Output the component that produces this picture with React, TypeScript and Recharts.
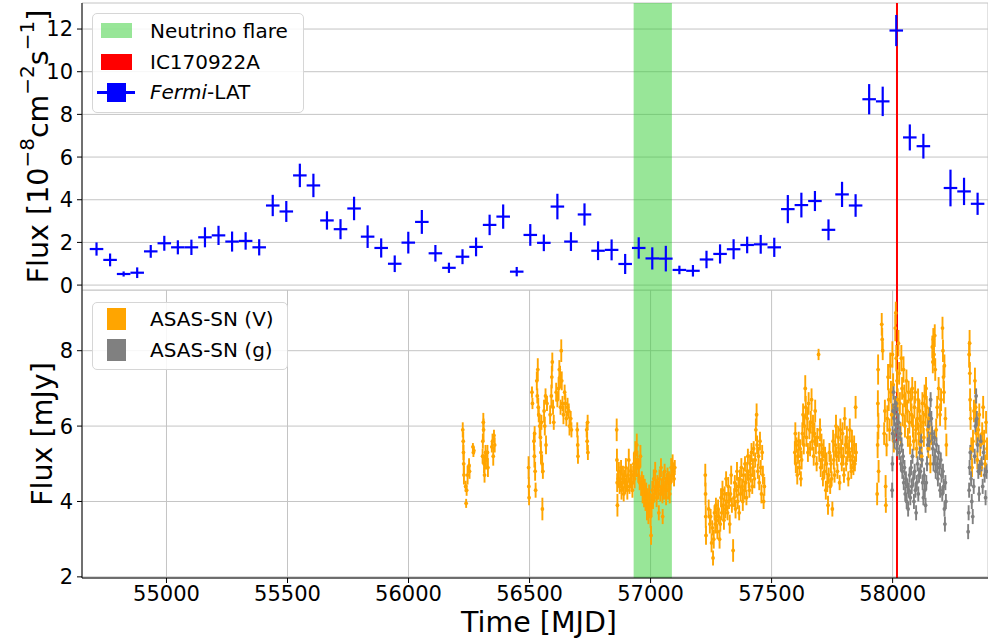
import React from 'react';
import {
  ComposedChart, Scatter, XAxis, YAxis, CartesianGrid, ErrorBar,
  ReferenceArea, ReferenceLine, Legend, Label,
} from 'recharts';

const FONT = '"DejaVu Sans", "Noto Sans", sans-serif';

// ---- axes / annotations ----
const xTicks = [55000, 55500, 56000, 56500, 57000, 57500, 58000];
const xDomain: [number, number] = [54651, 58394];
const fermiTicks = [0, 2, 4, 6, 8, 10, 12];
const fermiDomain: [number, number] = [-0.23, 13.22];
const asasTicks = [2, 4, 6, 8];
const asasDomain: [number, number] = [1.97, 9.61];
const neutrinoFlare: [number, number] = [56930, 57088];
const ic170922aTime = 58018;

// ---- Fermi-LAT (56-day bins) ----
const fermiTime = [54711, 54767, 54823, 54879, 54935, 54991, 55047, 55103, 55159, 55215, 55271, 55327, 55383, 55439, 55495, 55551, 55607, 55663, 55719, 55775, 55831, 55887, 55943, 55999, 56055, 56111, 56167, 56223, 56279, 56335, 56391, 56447, 56503, 56559, 56615, 56671, 56727, 56783, 56839, 56895, 56951, 57007, 57063, 57119, 57175, 57231, 57287, 57343, 57399, 57455, 57511, 57567, 57623, 57679, 57735, 57791, 57847, 57903, 57959, 58015, 58071, 58127, 58239, 58295, 58351];
const fermiFlux = [1.69, 1.18, 0.52, 0.58, 1.58, 1.96, 1.77, 1.77, 2.24, 2.33, 2.04, 2.07, 1.77, 3.73, 3.45, 5.14, 4.67, 3.03, 2.62, 3.59, 2.27, 1.74, 1.0, 1.99, 2.96, 1.49, 0.81, 1.33, 1.79, 2.82, 3.21, 0.63, 2.35, 1.98, 3.68, 2.04, 3.31, 1.61, 1.65, 0.99, 1.74, 1.25, 1.24, 0.71, 0.67, 1.2, 1.46, 1.68, 1.88, 1.91, 1.77, 3.56, 3.75, 3.94, 2.59, 4.25, 3.73, 8.71, 8.61, 11.93, 6.92, 6.51, 4.55, 4.39, 3.81];
const fermiFluxErr = [0.31, 0.30, 0.12, 0.25, 0.30, 0.35, 0.33, 0.36, 0.47, 0.45, 0.47, 0.41, 0.38, 0.50, 0.49, 0.55, 0.55, 0.43, 0.47, 0.55, 0.53, 0.45, 0.39, 0.51, 0.56, 0.39, 0.24, 0.35, 0.44, 0.48, 0.57, 0.22, 0.51, 0.39, 0.60, 0.44, 0.52, 0.44, 0.49, 0.47, 0.50, 0.52, 0.60, 0.20, 0.27, 0.41, 0.45, 0.47, 0.39, 0.44, 0.45, 0.66, 0.58, 0.47, 0.49, 0.59, 0.53, 0.71, 0.69, 0.73, 0.61, 0.58, 0.86, 0.64, 0.52];
const fermiBinHalfWidth = 28;

// ---- ASAS-SN V band: [MJD, flux mJy, err] ----
const asasV: number[][] = [
  [56224,5.9,0.2],[56226,5.6,0.25],[56227,5.3,0.2],[56228,5.0,0.3],[56229,4.7,0.25],[56236,4.4,0.15],[56238,3.95,0.12],[56240,4.3,0.15],[56244,4.7,0.25],[56250,4.95,0.2],[56252,4.8,0.2],[56266,5.45,0.1],[56268,5.3,0.12],[56270,5.35,0.1],[56306,5.2,0.2],[56307,5.6,0.2],[56309,6.1,0.25],[56310,5.9,0.3],[56312,5.0,0.25],[56314,4.7,0.2],[56318,5.3,0.2],[56320,5.1,0.25],[56326,5.3,0.2],[56328,4.9,0.25],[56344,5.45,0.15],[56347,5.6,0.2],[56350,5.2,0.25],[56353,5.75,0.15],[56356,5.5,0.2],
  [56496,4.9,0.3],[56497,4.4,0.25],[56498,4.1,0.2],[56510,6.9,0.15],[56512,6.6,0.15],[56518,5.6,0.25],[56520,5.2,0.3],[56521,5.8,0.2],[56523,4.8,0.25],[56525,4.3,0.2],[56530,7.2,0.25],[56532,6.8,0.2],[56534,7.5,0.3],[56536,6.5,0.25],[56538,6.3,0.2],[56542,6.0,0.3],[56545,5.7,0.25],[56547,5.3,0.3],[56549,6.1,0.2],[56552,5.0,0.25],[56553,3.8,0.3],[56555,4.8,0.2],[56560,6.4,0.3],[56563,6.0,0.25],[56566,6.8,0.2],[56568,5.5,0.25],[56572,6.6,0.2],[56585,6.3,0.25],[56590,6.8,0.3],[56592,7.3,0.3],[56594,7.7,0.25],[56597,6.5,0.2],[56600,6.1,0.2],[56610,6.9,0.25],[56615,6.7,0.2],[56620,7.0,0.3],[56623,7.5,0.25],[56626,7.3,0.3],[56628,6.5,0.2],[56631,8.0,0.3],[56633,7.2,0.25],[56636,6.6,0.2],[56640,6.3,0.25],[56645,6.9,0.2],[56648,6.6,0.25],[56652,6.2,0.2],[56657,6.5,0.25],[56662,6.4,0.2],[56665,6.0,0.25],[56670,6.2,0.2],[56673,5.9,0.2],[56697,5.9,0.2],[56699,5.5,0.25],[56700,5.2,0.2],[56736,5.9,0.2],[56738,5.6,0.25],[56740,6.1,0.2],[56741,5.3,0.2],
  [56860,5.9,0.3],[56861,5.1,0.3],[56862,4.5,0.25],[56863,3.9,0.3],[56866,4.6,0.2],[56869,4.8,0.25],[56872,4.4,0.2],[56875,4.6,0.25],[56878,4.9,0.2],[56880,4.3,0.25],[56883,4.5,0.2],[56886,4.7,0.25],[56889,4.2,0.2],[56892,4.6,0.25],[56895,4.4,0.2],[56898,4.9,0.25],[56901,4.5,0.2],[56904,4.3,0.25],[56907,4.7,0.2],[56910,5.1,0.3],[56913,4.4,0.2],[56916,4.6,0.25],[56919,4.8,0.2],[56922,4.5,0.25],[56925,4.3,0.2],[56928,4.7,0.25],[56931,5.0,0.3],[56934,4.6,0.25],[56937,5.3,0.3],[56940,4.9,0.25],[56943,5.5,0.3],[56946,5.1,0.25],[56949,4.7,0.2],[56952,4.9,0.25],[56955,4.5,0.2],[56958,5.2,0.3],[56961,4.4,0.25],[56964,4.6,0.2],[56967,4.2,0.25],[56970,4.5,0.2],[56973,4.1,0.25],[56976,4.4,0.2],[56979,4.0,0.25],[56982,4.3,0.2],[56985,3.8,0.3],[56988,4.1,0.25],[56991,3.7,0.3],[56994,4.2,0.25],[56997,3.9,0.3],[57000,3.6,0.3],[57002,3.1,0.25],[57004,3.9,0.3],[57007,4.3,0.25],[57010,4.0,0.2],[57013,4.6,0.25],[57016,4.2,0.2],[57019,4.8,0.25],[57022,4.4,0.2],[57025,4.1,0.25],[57028,4.5,0.2],[57031,4.3,0.25],[57034,3.7,0.2],[57037,4.6,0.25],[57040,4.2,0.2],[57043,4.9,0.25],[57046,4.4,0.2],[57049,4.2,0.25],[57050,3.6,0.2],[57052,4.6,0.2],[57055,4.3,0.25],[57058,4.8,0.2],[57061,4.4,0.25],[57064,4.1,0.2],[57067,4.5,0.25],[57070,4.7,0.2],[57073,4.3,0.25],[57076,4.6,0.2],[57079,4.2,0.25],[57082,4.5,0.2],[57085,4.9,0.25],[57088,4.7,0.2],[57091,5.0,0.25],[57094,4.8,0.2],[57097,4.6,0.2],[57100,4.9,0.2],
  [57226,4.7,0.3],[57227,4.2,0.3],[57228,3.6,0.3],[57229,3.1,0.25],[57240,3.8,0.25],[57245,3.4,0.25],[57248,3.6,0.2],[57252,2.9,0.25],[57255,3.3,0.2],[57258,2.5,0.2],[57261,3.0,0.25],[57264,3.7,0.2],[57267,3.4,0.25],[57270,3.9,0.2],[57273,3.5,0.25],[57276,3.2,0.2],[57279,3.8,0.25],[57282,3.6,0.2],[57285,3.0,0.25],[57288,3.4,0.2],[57291,4.1,0.25],[57294,3.7,0.2],[57297,4.3,0.25],[57300,3.9,0.2],[57303,3.5,0.25],[57306,4.2,0.2],[57309,3.8,0.25],[57312,4.6,0.2],[57315,4.0,0.25],[57318,3.7,0.2],[57321,4.4,0.25],[57324,4.0,0.2],[57327,3.4,0.25],[57330,4.2,0.2],[57333,4.7,0.25],[57336,3.9,0.2],[57341,2.7,0.3],[57345,4.1,0.25],[57348,4.5,0.2],[57351,3.8,0.25],[57354,4.3,0.2],[57357,4.8,0.25],[57360,4.0,0.2],[57363,4.4,0.25],[57366,3.7,0.2],[57369,4.6,0.25],[57372,4.2,0.2],[57375,4.9,0.25],[57378,4.4,0.2],[57381,4.0,0.25],[57384,4.7,0.2],[57387,4.3,0.25],[57390,5.0,0.2],[57393,4.5,0.25],[57396,4.1,0.2],[57399,4.8,0.25],[57402,5.2,0.2],[57405,4.6,0.25],[57408,4.3,0.2],[57411,5.0,0.25],[57414,4.7,0.2],[57417,5.3,0.25],[57420,4.4,0.2],[57423,4.9,0.25],[57426,5.4,0.2],[57429,4.6,0.25],[57432,5.1,0.2],[57435,5.9,0.3],[57438,6.3,0.3],[57440,5.5,0.25],[57443,4.8,0.2],[57446,5.2,0.25],[57449,4.5,0.2],[57452,5.6,0.25],[57455,4.9,0.2],[57458,4.2,0.25],[57461,5.3,0.2],[57464,4.7,0.25],[57467,4.0,0.2],[57470,4.4,0.25],
  [57596,5.3,0.3],[57598,5.8,0.3],[57600,5.0,0.25],[57603,5.5,0.2],[57606,4.7,0.25],[57609,5.2,0.2],[57612,5.6,0.25],[57615,4.9,0.2],[57618,5.4,0.25],[57621,4.6,0.2],[57624,5.1,0.25],[57627,5.8,0.3],[57630,6.3,0.3],[57633,5.5,0.25],[57636,6.0,0.3],[57639,7.0,0.35],[57641,6.5,0.3],[57644,5.7,0.25],[57647,6.2,0.3],[57650,5.3,0.25],[57653,6.6,0.3],[57656,5.9,0.25],[57659,5.4,0.2],[57662,6.1,0.3],[57665,6.7,0.3],[57668,5.6,0.25],[57671,6.0,0.3],[57674,5.2,0.25],[57677,5.8,0.3],[57680,6.4,0.3],[57683,5.5,0.25],[57686,5.0,0.2],[57689,5.7,0.25],[57694,7.9,0.15],[57697,5.3,0.25],[57700,5.9,0.3],[57703,4.9,0.25],[57706,5.5,0.3],[57709,5.1,0.25],[57712,4.6,0.2],[57715,5.4,0.25],[57718,4.8,0.2],[57721,5.2,0.25],[57724,4.3,0.25],[57727,5.0,0.3],[57730,4.5,0.25],[57733,3.9,0.25],[57736,4.7,0.2],[57739,5.3,0.25],[57742,4.4,0.2],[57745,5.0,0.25],[57748,4.6,0.2],[57751,3.8,0.2],[57754,5.6,0.3],[57757,5.1,0.25],[57760,4.7,0.2],[57763,5.5,0.3],[57766,6.0,0.3],[57769,5.2,0.25],[57772,4.8,0.2],[57775,5.7,0.3],[57778,5.3,0.25],[57781,4.5,0.2],[57784,5.9,0.3],[57787,5.4,0.25],[57790,5.0,0.2],[57793,5.8,0.3],[57796,5.2,0.25],[57799,4.7,0.2],[57802,6.2,0.3],[57805,5.5,0.25],[57808,5.0,0.2],[57811,5.7,0.3],[57814,5.3,0.25],[57817,4.6,0.2],[57820,5.4,0.25],[57823,5.9,0.3],[57826,5.1,0.25],[57829,4.8,0.2],[57832,5.6,0.3],[57835,5.2,0.25],[57838,4.9,0.2],[57841,5.5,0.25],[57844,5.0,0.2],[57847,6.5,0.3],[57849,5.3,0.25],
  [57936,4.2,0.3],[57938,5.5,0.35],[57939,6.6,0.35],[57940,7.5,0.4],[57941,6.0,0.35],[57942,4.8,0.3],[57955,8.7,0.3],[57957,8.3,0.3],[57959,8.0,0.25],[57965,5.8,0.3],[57968,6.4,0.3],[57971,4.4,0.3],[57972,3.9,0.2],[57975,5.5,0.3],[57978,6.2,0.35],[57981,7.3,0.35],[57984,6.7,0.3],[57987,5.9,0.3],[57990,7.6,0.35],[57993,6.9,0.3],[57996,6.3,0.3],[57999,7.9,0.35],[58002,7.1,0.3],[58005,5.6,0.3],[58008,6.5,0.3],[58011,8.6,0.35],[58013,9.0,0.3],[58015,7.8,0.35],[58018,7.2,0.3],[58021,6.7,0.3],[58024,8.2,0.35],[58027,7.4,0.3],[58030,6.6,0.3],[58033,5.8,0.3],[58036,7.8,0.35],[58039,7.0,0.3],[58042,6.3,0.3],[58045,7.5,0.35],[58048,6.8,0.3],[58051,6.0,0.3],[58054,6.6,0.3],[58057,7.2,0.3],[58060,6.4,0.3],[58063,5.7,0.25],[58066,6.9,0.3],[58069,6.1,0.3],[58072,5.5,0.25],[58075,6.7,0.3],[58078,6.3,0.3],[58081,7.0,0.3],[58084,6.0,0.3],[58087,5.6,0.25],[58090,6.5,0.3],[58093,6.9,0.3],[58096,5.9,0.3],[58099,5.4,0.25],[58102,6.2,0.3],[58105,6.7,0.3],[58108,5.8,0.3],[58111,6.4,0.3],[58114,5.5,0.25],[58117,6.0,0.3],[58120,5.2,0.25],[58123,6.6,0.3],[58126,6.1,0.3],[58129,5.7,0.25],[58132,6.8,0.3],[58135,6.3,0.3],[58138,7.0,0.3],[58141,6.5,0.3],[58144,5.9,0.3],[58147,5.4,0.25],[58150,6.2,0.3],[58153,5.6,0.25],[58156,5.0,0.25],[58160,5.8,0.3],[58164,8.1,0.3],[58166,7.7,0.3],[58168,8.3,0.3],[58171,7.9,0.3],[58174,8.4,0.3],[58176,7.5,0.3],[58180,5.9,0.3],[58184,6.5,0.3],[58190,7.0,0.3],[58196,6.3,0.3],[58200,6.7,0.3],[58206,8.6,0.3],[58208,8.0,0.3],[58210,7.3,0.3],[58212,6.9,0.3],[58214,7.6,0.3],[58218,6.2,0.3],[58222,5.5,0.3],
  [58316,7.9,0.35],[58318,8.2,0.35],[58319,7.4,0.3],[58320,6.7,0.3],[58322,6.2,0.3],[58325,5.4,0.3],[58328,4.9,0.25],[58332,5.6,0.3],[58336,6.4,0.3],[58340,7.2,0.35],[58343,6.5,0.3],[58346,5.8,0.3],[58350,5.1,0.25],[58354,5.9,0.3],[58358,6.3,0.3],[58362,5.5,0.3],[58366,4.9,0.25],[58370,5.8,0.3],[58374,6.5,0.3],[58378,5.6,0.3],[58382,5.0,0.25],[58386,6.1,0.3],[58390,5.4,0.3],
];

// ---- ASAS-SN g band: [MJD, flux mJy, err] ----
const asasG: number[][] = [
  [57998,4.3,0.2],[57999,5.0,0.2],[58000,5.8,0.2],[58002,6.4,0.2],[58004,6.9,0.2],[58006,6.2,0.2],[58008,5.6,0.2],[58010,6.5,0.2],[58012,5.9,0.2],[58014,6.6,0.2],[58016,6.0,0.2],[58018,5.4,0.2],[58020,6.3,0.2],[58022,5.7,0.2],[58025,6.1,0.2],[58028,5.3,0.2],[58031,5.8,0.2],[58034,5.0,0.2],[58037,5.5,0.2],[58040,4.8,0.2],[58043,5.2,0.2],[58046,4.5,0.2],[58049,4.9,0.2],[58052,4.2,0.2],[58055,4.6,0.2],[58058,4.0,0.2],[58061,4.4,0.2],[58064,3.8,0.2],[58067,4.3,0.2],[58070,4.7,0.2],[58073,4.1,0.2],[58076,4.9,0.2],[58079,4.4,0.2],[58082,5.2,0.2],[58085,4.6,0.2],[58088,4.0,0.2],[58091,4.8,0.2],[58094,4.3,0.2],[58097,3.7,0.2],[58100,4.5,0.2],[58103,5.0,0.2],[58106,4.2,0.2],[58109,4.7,0.2],[58112,5.3,0.2],[58115,4.8,0.2],[58118,5.6,0.2],[58121,5.1,0.2],[58124,4.5,0.2],[58127,4.1,0.2],[58130,4.7,0.2],[58133,4.3,0.2],[58136,3.9,0.2],[58139,4.5,0.2],[58142,5.0,0.2],[58145,5.5,0.2],[58148,6.0,0.2],[58151,5.6,0.2],[58154,6.3,0.2],[58157,6.7,0.2],[58160,6.2,0.2],[58163,5.8,0.2],[58166,5.4,0.2],[58169,5.0,0.2],[58172,5.7,0.2],[58175,5.2,0.2],[58178,4.8,0.2],[58181,5.5,0.2],[58184,5.0,0.2],[58187,4.6,0.2],[58190,5.3,0.2],[58193,4.9,0.2],[58196,4.3,0.2],[58199,5.1,0.2],[58202,4.7,0.2],[58205,4.2,0.2],[58208,4.8,0.2],[58211,4.4,0.2],[58214,3.8,0.2],[58216,3.4,0.2],[58218,4.5,0.2],[58220,4.0,0.2],
  [58312,3.2,0.2],[58314,3.7,0.2],[58316,4.3,0.2],[58318,4.9,0.2],[58321,5.3,0.2],[58324,4.6,0.2],[58327,4.0,0.2],[58331,3.6,0.2],[58335,4.4,0.2],[58339,5.2,0.2],[58342,6.0,0.2],[58345,6.8,0.2],[58348,6.2,0.2],[58351,5.5,0.2],[58354,4.8,0.2],[58357,4.2,0.2],[58360,4.9,0.2],[58364,5.6,0.2],[58368,5.0,0.2],[58372,4.4,0.2],[58376,5.3,0.2],[58380,4.7,0.2],[58384,4.1,0.2],[58388,4.8,0.2],
];

const fermiData = fermiTime.map((t, i) => ({ t, f: fermiFlux[i], err: fermiFluxErr[i], xerr: fermiBinHalfWidth }));
const vData = asasV.map(([t, f, e]) => ({ t, f, e }));
const gData = asasG.map(([t, f, e]) => ({ t, f, e }));

const BLUE = '#0000ff';
const ORANGE = '#ffa500';
const GRAY = '#808080';
const GREEN = '#32cd32';
const RED = '#ff0000';
const GRID = '#c4c4c4';

const tickStyle = { fill: '#000', fontSize: 21, fontFamily: FONT };
const LABEL_SIZE = 28.5;
const SUP_SIZE = 20;

const EmptyShape = () => <g />;
const dotShape = (color: string) => (p: any) => <circle cx={p.cx} cy={p.cy} r={1.9} fill={color} />;

const TopYLabel = (props: any) => {
  const vb = props.viewBox || { x: 0, y: 3, width: 82, height: 287 };
  const cx = vb.x + 38;
  const cy = vb.y + vb.height / 2;
  return (
    <text x={cx} y={cy} transform={`rotate(-90 ${cx} ${cy})`} textAnchor="middle" dominantBaseline="central"
      fontFamily={FONT} fontSize={LABEL_SIZE} fill="#000">
      Flux [10<tspan dy={-11} fontSize={SUP_SIZE}>−8</tspan><tspan dy={11}>cm</tspan><tspan dy={-11} fontSize={SUP_SIZE}>−2</tspan><tspan dy={11}>s</tspan><tspan dy={-11} fontSize={SUP_SIZE}>−1</tspan><tspan dy={11}>]</tspan>
    </text>
  );
};

const BottomYLabel = (props: any) => {
  const vb = props.viewBox || { x: 0, y: 0, width: 82, height: 288 };
  const cx = vb.x + 42;
  const cy = vb.y + vb.height / 2;
  return (
    <text x={cx} y={cy} transform={`rotate(-90 ${cx} ${cy})`} textAnchor="middle" dominantBaseline="central"
      fontFamily={FONT} fontSize={LABEL_SIZE} fill="#000">Flux [mJy]</text>
  );
};

const XLabel = (props: any) => {
  const vb = props.viewBox || { x: 82, y: 288, width: 906, height: 65 };
  const cx = vb.x + vb.width / 2 + 4;
  return (
    <text x={cx} y={vb.y + 54} textAnchor="middle" fontFamily={FONT} fontSize={LABEL_SIZE} fill="#000">Time [MJD]</text>
  );
};

const boxStyle: React.CSSProperties = {
  position: 'relative', boxSizing: 'border-box', border: '1px solid #d6d6d6', borderRadius: 5,
  background: 'rgba(255,255,255,0.85)', fontFamily: FONT, fontSize: 20, color: '#000',
};
const textRow = (top: number): React.CSSProperties => ({
  position: 'absolute', left: 57, top, lineHeight: '24px', whiteSpace: 'nowrap',
});

const TopLegend = () => (
  <div style={{ ...boxStyle, width: 212, height: 100 }}>
    <div style={{ position: 'absolute', left: 8, top: 9, width: 31, height: 15, background: GREEN, opacity: 0.5 }} />
    <div style={textRow(5)}>Neutrino flare</div>
    <div style={{ position: 'absolute', left: 8, top: 40, width: 31, height: 16, background: RED }} />
    <div style={textRow(36)}>IC170922A</div>
    <div style={{ position: 'absolute', left: 4, top: 77, width: 38, height: 3, background: BLUE }} />
    <div style={{ position: 'absolute', left: 14, top: 69, width: 19, height: 19, background: BLUE }} />
    <div style={textRow(66)}><i>Fermi</i>-LAT</div>
  </div>
);

const BottomLegend = () => (
  <div style={{ ...boxStyle, width: 196, height: 68 }}>
    <div style={{ position: 'absolute', left: 14, top: 5, width: 19, height: 22, background: ORANGE }} />
    <div style={textRow(4)}>ASAS-SN (V)</div>
    <div style={{ position: 'absolute', left: 14, top: 36, width: 19, height: 22, background: GRAY }} />
    <div style={textRow(35)}>ASAS-SN (g)</div>
  </div>
);

export default function App() {
  return (
    <div style={{ position: 'absolute', left: 0, top: 0, width: 988, height: 643, background: '#fff', overflow: 'hidden', fontFamily: FONT }}>
      <div style={{ position: 'absolute', left: 0, top: 0 }}>
        <ComposedChart width={988} height={304} margin={{ top: 3, right: 0, bottom: 14, left: 0 }} data={fermiData}>
          <CartesianGrid stroke={GRID} strokeWidth={1} />
          <XAxis dataKey="t" type="number" domain={xDomain} ticks={xTicks} allowDataOverflow height={0}
            tick={false} tickLine={false} axisLine={{ stroke: '#000', strokeWidth: 1 }} />
          <XAxis xAxisId="top" orientation="top" dataKey="t" type="number" domain={xDomain} ticks={xTicks} allowDataOverflow
            height={0} tick={false} tickLine={false} axisLine={{ stroke: '#000', strokeWidth: 1 }} />
          <YAxis dataKey="f" type="number" domain={fermiDomain} ticks={fermiTicks} interval={0} allowDataOverflow width={82}
            tick={tickStyle} tickSize={5} tickMargin={4} axisLine={{ stroke: '#000' }} tickLine={{ stroke: '#000' }}>
            <Label content={TopYLabel} />
          </YAxis>
          <ReferenceArea x1={neutrinoFlare[0]} x2={neutrinoFlare[1]} fill={GREEN} fillOpacity={0.5} stroke="none" ifOverflow="hidden" />
          <ReferenceLine x={ic170922aTime} stroke={RED} strokeWidth={2} />
          <Scatter data={fermiData} dataKey="f" shape={EmptyShape} isAnimationActive={false}>
            <ErrorBar dataKey="xerr" direction="x" width={0} stroke={BLUE} strokeWidth={2.2} isAnimationActive={false} />
            <ErrorBar dataKey="err" direction="y" width={0} stroke={BLUE} strokeWidth={2.2} isAnimationActive={false} />
          </Scatter>
          <Legend layout="vertical" align="center" verticalAlign="middle" content={TopLegend}
            wrapperStyle={{ left: 92, top: 13, width: 212, height: 100 }} />
        </ComposedChart>
      </div>
      <div style={{ position: 'absolute', left: 0, top: 290 }}>
        <ComposedChart width={988} height={353} margin={{ top: 0, right: 0, bottom: 0, left: 0 }}>
          <CartesianGrid stroke={GRID} strokeWidth={1} />
          <XAxis dataKey="t" type="number" domain={xDomain} ticks={xTicks} interval={0} allowDataOverflow height={65}
            tick={tickStyle} tickSize={5} tickMargin={3} axisLine={{ stroke: '#000' }} tickLine={{ stroke: '#000' }}>
            <Label content={XLabel} />
          </XAxis>
          <XAxis xAxisId="top" orientation="top" dataKey="t" type="number" domain={xDomain} ticks={xTicks} allowDataOverflow
            height={0} tick={false} tickLine={false} axisLine={{ stroke: '#000', strokeWidth: 1 }} />
          <YAxis dataKey="f" type="number" domain={asasDomain} ticks={asasTicks} interval={0} allowDataOverflow width={82}
            tick={tickStyle} tickSize={5} tickMargin={4} axisLine={{ stroke: '#000' }} tickLine={{ stroke: '#000' }}>
            <Label content={BottomYLabel} />
          </YAxis>
          <ReferenceArea x1={neutrinoFlare[0]} x2={neutrinoFlare[1]} fill={GREEN} fillOpacity={0.5} stroke="none" ifOverflow="hidden" />
          <ReferenceLine x={ic170922aTime} stroke={RED} strokeWidth={2} />
          <Scatter data={vData} dataKey="f" shape={dotShape(ORANGE)} isAnimationActive={false}>
            <ErrorBar dataKey="e" direction="y" width={0} stroke={ORANGE} strokeWidth={1.9} isAnimationActive={false} />
          </Scatter>
          <Scatter data={gData} dataKey="f" shape={dotShape(GRAY)} isAnimationActive={false}>
            <ErrorBar dataKey="e" direction="y" width={0} stroke={GRAY} strokeWidth={1.9} isAnimationActive={false} />
          </Scatter>
          <Legend layout="vertical" align="center" verticalAlign="middle" content={BottomLegend}
            wrapperStyle={{ left: 92, top: 12, width: 196, height: 68 }} />
        </ComposedChart>
      </div>
    </div>
  );
}
